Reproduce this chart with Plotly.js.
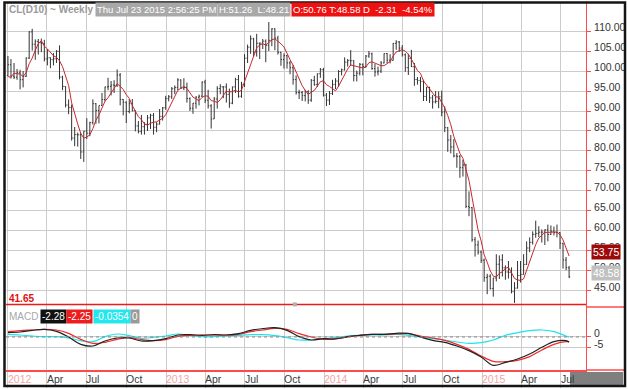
<!DOCTYPE html>
<html><head><meta charset="utf-8">
<script src="https://cdn.plot.ly/plotly-3.0.1.min.js"></script>
<style>html,body{margin:0;padding:0;background:#fff;}#chart{width:628px;height:389px;}</style>
</head><body><div id="chart"></div>
<script>
// ---- data (weekly bars, Monday dates) ----
const firstWeek = '2012-01-02';
const opens = [
98.83,101.56,98.70,98.46,99.56,97.84,98.67,103.24,109.77,106.70,
107.40,107.06,106.87,103.02,103.31,102.83,103.05,104.93,98.49,96.13,
91.48,90.86,83.23,84.10,84.03,79.76,84.96,84.45,87.10,91.83,
90.13,91.40,92.87,96.01,96.15,96.47,96.42,99.00,92.89,92.19,
89.88,91.86,90.05,86.28,84.86,86.07,86.67,88.28,88.91,85.93,
86.73,88.66,90.80,93.09,93.56,95.56,95.88,97.77,95.72,95.86,
93.13,90.68,91.95,93.45,93.71,97.23,92.70,91.29,88.01,93.00,
95.61,96.04,96.02,94.15,91.97,96.03,97.85,93.69,96.56,103.22,
105.95,108.05,104.70,106.94,106.97,107.46,106.42,107.65,110.53,108.21,
104.67,102.87,103.84,102.02,100.81,97.85,94.61,94.60,93.84,94.84,
92.72,97.65,96.60,99.32,100.32,93.96,92.72,94.37,96.64,97.49,
99.88,100.30,102.20,102.59,102.58,98.89,99.46,101.67,101.14,103.74,
104.30,100.60,99.76,99.99,102.02,104.35,102.71,102.66,106.91,107.26,
105.74,104.06,100.83,103.13,101.09,97.88,97.65,97.35,93.65,95.96,
93.29,92.27,92.41,93.54,89.74,85.82,82.75,81.01,78.77,78.65,
75.82,76.51,66.15,65.84,57.81,56.52,54.73,52.69,48.36,48.69,
45.59,48.24,51.69,52.78,50.81,49.76,49.61,44.84,45.72,48.87,
49.14,51.64,55.74,57.15,59.15,59.39,59.69,59.72,60.30,59.13,
59.96,59.61,59.63,56.93,52.74,50.76];
const highs = [
103.74,103.00,102.00,100.50,100.30,100.00,103.40,109.95,110.55,107.90,
108.00,108.10,107.80,105.50,103.40,104.50,105.20,106.40,98.80,96.20,
92.90,91.60,86.00,84.60,84.50,85.00,88.20,87.30,92.90,92.00,
91.30,94.50,96.10,98.30,97.50,97.70,100.40,99.50,93.00,92.40,
93.00,93.00,90.20,87.50,89.00,87.20,89.00,89.30,89.50,87.20,
90.50,91.00,93.80,94.00,96.00,96.40,98.20,97.90,98.20,97.10,
93.40,92.00,93.70,94.10,97.40,97.80,95.30,91.70,93.50,96.20,
96.70,96.20,96.90,95.60,96.10,98.30,99.00,97.30,104.20,106.60,
108.90,108.30,109.30,107.10,108.00,107.90,112.24,110.70,110.70,108.80,
104.80,104.40,104.00,102.50,101.50,98.90,95.30,95.00,95.30,95.20,
98.00,98.80,99.40,100.75,100.80,94.50,95.00,97.80,98.20,100.20,
100.60,103.40,103.00,105.22,102.70,100.10,102.00,101.90,104.00,104.99,
104.60,101.80,101.10,102.50,104.40,104.50,104.20,107.00,107.70,107.50,
106.50,104.40,104.30,105.30,102.00,98.50,98.50,97.80,96.00,96.00,
94.00,95.00,94.90,95.10,91.20,86.00,84.00,83.00,79.50,79.00,
77.80,76.80,69.90,66.00,58.50,57.60,55.10,53.10,49.30,49.20,
48.30,54.20,53.90,54.20,51.40,52.50,50.90,47.20,52.50,52.50,
54.20,57.40,58.40,59.90,62.58,61.20,60.40,60.40,61.60,61.40,
61.10,61.60,59.70,57.00,53.50,51.26];
const lows = [
98.80,98.10,98.00,97.80,95.40,95.90,98.50,103.00,105.10,102.80,
104.10,104.70,102.40,101.40,100.70,101.40,102.00,97.90,95.20,90.90,
89.20,82.60,81.20,81.10,78.00,77.28,83.00,83.70,86.60,86.80,
86.90,91.30,92.40,95.20,93.90,94.50,96.00,91.40,88.90,87.00,
89.40,89.90,84.90,84.40,84.10,84.10,85.00,85.50,84.10,84.70,
86.60,87.60,90.30,92.40,93.00,94.20,95.20,95.50,95.20,92.10,
90.00,89.30,90.60,91.40,93.50,92.00,90.60,85.60,88.00,90.60,
94.20,93.20,92.10,90.80,91.70,94.50,93.30,93.30,96.00,102.00,
104.30,103.60,103.60,103.00,105.50,102.20,105.00,106.20,105.20,104.10,
101.30,100.60,100.60,99.20,96.60,94.10,93.00,92.50,92.40,91.80,
92.30,96.30,96.00,98.30,93.60,91.24,91.50,94.00,95.50,96.00,
98.90,100.10,101.10,101.30,97.40,97.40,98.90,98.90,100.80,103.30,
100.30,98.60,98.90,99.50,101.90,102.00,101.90,102.60,105.30,104.80,
103.60,99.80,99.00,101.00,96.30,96.60,94.70,92.50,92.50,92.00,
90.60,91.90,90.70,88.70,84.70,79.80,79.40,78.40,75.80,73.30,
73.60,65.70,63.70,57.30,53.60,54.10,52.00,47.30,44.20,45.40,
43.58,47.40,48.00,48.60,47.80,48.10,44.40,42.03,45.60,47.10,
49.10,51.50,54.70,56.60,58.30,58.50,57.10,56.50,57.40,59.00,
58.90,58.40,55.50,50.60,50.20,48.21];
const closes = [
101.56,98.70,98.46,99.56,97.84,98.67,103.24,109.77,106.70,107.40,
107.06,106.87,103.02,103.31,102.83,103.05,104.93,98.49,96.13,91.48,
90.86,83.23,84.10,84.03,79.76,84.96,84.45,87.10,91.83,90.13,
91.40,92.87,96.01,96.15,96.47,96.42,99.00,92.89,92.19,89.88,
91.86,90.05,86.28,84.86,86.07,86.67,88.28,88.91,85.93,86.73,
88.66,90.80,93.09,93.56,95.56,95.88,97.77,95.72,95.86,93.13,
90.68,91.95,93.45,93.71,97.23,92.70,91.29,88.01,93.00,95.61,
96.04,96.02,94.15,91.97,96.03,97.85,93.69,96.56,103.22,105.95,
108.05,104.70,106.94,106.97,107.46,106.42,107.65,110.53,108.21,104.67,
102.87,103.84,102.02,100.81,97.85,94.61,94.60,93.84,94.84,92.72,
97.65,96.60,99.32,100.32,93.96,92.72,94.37,96.64,97.49,99.88,
100.30,102.20,102.59,102.58,98.89,99.46,101.67,101.14,103.74,104.30,
100.60,99.76,99.99,102.02,104.35,102.71,102.66,106.91,107.26,105.74,
104.06,100.83,103.13,101.09,97.88,97.65,97.35,93.65,95.96,93.29,
92.27,92.41,93.54,89.74,85.82,82.75,81.01,78.77,78.65,75.82,
76.51,66.15,65.84,57.81,56.52,54.73,52.69,48.36,48.69,45.59,
48.24,51.69,52.78,50.81,49.76,49.61,44.84,45.72,48.87,49.14,
51.64,55.74,57.15,59.15,59.39,59.69,59.72,60.30,59.13,59.96,
59.61,59.63,56.93,52.74,50.89,48.58];
const movingAvg = [
98.60,98.46,99.45,99.42,99.22,98.65,99.55,101.82,103.24,105.16,
106.83,107.56,106.21,105.53,104.62,103.82,103.43,102.52,101.09,98.82,
96.38,92.04,89.16,86.74,84.40,83.22,83.46,84.06,85.62,87.69,
88.98,90.67,92.45,93.31,94.58,95.58,96.81,96.19,95.39,94.08,
93.16,91.37,90.05,88.59,87.82,86.79,86.43,86.96,87.17,87.30,
87.70,88.21,89.04,90.57,92.33,93.78,95.17,95.70,96.16,95.67,
94.63,93.47,93.01,92.58,93.40,93.81,93.68,92.59,92.45,92.12,
92.79,93.74,94.96,94.76,94.84,95.20,94.74,95.22,97.47,99.45,
101.49,103.70,105.77,106.52,106.82,106.50,107.09,107.81,108.05,107.50,
106.79,106.02,104.32,102.84,101.48,99.83,97.98,96.34,95.15,94.12,
94.73,95.13,96.23,97.32,97.57,96.58,96.14,95.60,95.04,96.22,
97.74,99.30,100.49,101.51,101.31,101.14,101.04,100.75,100.98,102.06,
102.29,101.91,101.68,101.33,101.34,101.77,102.35,103.73,104.78,105.06,
105.33,104.96,104.20,102.97,101.40,100.12,99.42,97.52,96.50,95.58,
94.50,93.52,93.49,92.25,90.76,88.85,86.57,83.62,81.40,79.40,
78.15,75.18,72.59,68.43,64.57,60.21,57.52,54.02,52.20,50.01,
48.71,48.51,49.40,49.82,50.66,50.93,49.56,48.15,47.76,47.64,
48.04,50.22,52.51,54.56,56.61,58.22,59.02,59.65,59.65,59.76,
59.74,59.73,59.05,57.77,55.96,53.75];

// MACD panel, read every 4th week (bar index) plus the last bar
const macdIdx = [0,4,8,12,16,20,24,28,32,36,40,44,48,52,56,60,64,68,72,76,80,84,88,92,96,100,104,108,112,116,120,124,128,132,136,140,144,148,152,156,160,164,168,172,176,180,184,185];
const macdLine = [
1.97,2.27,3.03,3.48,2.58,0.00,-3.33,-4.09,-1.82,-0.45,
-0.45,-1.82,-1.67,-0.76,0.91,1.06,0.76,1.06,0.91,1.52,
3.03,3.79,4.24,3.03,0.15,-1.36,-0.76,-0.91,0.15,0.76,
1.21,1.21,1.67,1.67,0.00,-1.52,-2.42,-4.09,-6.21,-9.09,
-12.88,-11.52,-10.00,-7.73,-4.70,-2.12,-1.67,-2.28];
const signalLine = [
2.42,2.88,3.18,3.48,3.18,1.67,-1.06,-2.88,-2.42,-1.06,
-0.30,-1.21,-1.67,-1.21,0.30,0.76,0.91,0.91,0.91,1.21,
2.42,3.18,3.94,3.48,1.52,0.00,-1.06,-0.76,0.00,0.76,
1.21,1.21,1.36,1.52,0.45,-0.45,-1.52,-3.33,-5.61,-8.64,
-11.06,-11.21,-10.60,-8.94,-5.91,-3.33,-2.12,-2.25];
const diffLine = [
1.21,0.91,0.45,0.15,0.15,-0.45,-1.67,-2.12,0.15,1.36,
0.61,-0.61,-0.15,0.45,1.36,0.76,0.15,0.15,0.45,0.76,
1.06,1.06,0.61,-0.30,-1.36,-1.36,-0.61,-0.30,0.45,0.76,
0.91,0.91,1.21,0.76,0.00,-0.76,-1.36,-2.27,-2.88,-2.58,
-1.36,0.76,1.97,2.88,3.18,2.42,0.45,-0.0354];

const quarterDates = ['2012-01-01','2012-04-01','2012-07-01','2012-10-01','2013-01-01','2013-04-01','2013-07-01','2013-10-01','2014-01-01','2014-04-01','2014-07-01','2014-10-01','2015-01-01','2015-04-01','2015-07-01'];
const quarterLabels = ['2012','Apr','Jul','Oct','2013','Apr','Jul','Oct','2014','Apr','Jul','Oct','2015','Apr','Jul'];
const priceTicks = [45,50,55,60,65,70,75,80,85,90,95,100,105,110];
const macdTicks = [0,-5];
const lowMark = 41.65;
const headerTitle = 'CL(D10) ~ Weekly';
const headerStamp = 'Thu Jul 23 2015 2:56:25 PM';
const headerHL = 'H:51.26\u00a0 L:48.21';
const headerOC = 'O:50.76 T:48.58 D\u00a0 -2.31\u00a0 -4.54%';
const macdLabels = ['MACD', String(macdLine[macdLine.length-1]), String(signalLine[signalLine.length-1]), String(diffLine[diffLine.length-1]), '0'];

// ---- build ----
function weekDates(start, n){
  const out=[]; const t0=Date.parse(start+'T00:00:00Z');
  for(let i=0;i<n;i++){ out.push(new Date(t0+i*7*86400000).toISOString().slice(0,10)); }
  return out;
}
const dates = weekDates(firstWeek, closes.length);
const macdDates = macdIdx.map(i=>dates[i]);

const FONT = 'Liberation Sans, Arial, sans-serif';
const RED = '#ff4a4a';
const GRID = '#cccccc';
const SPLIT = 0.1717;

const traces = [
  {type:'ohlc', x:dates, open:opens, high:highs, low:lows, close:closes, xaxis:'x', yaxis:'y',
   increasing:{line:{color:'#333333', width:1}}, decreasing:{line:{color:'#333333', width:1}}, tickwidth:0.35, hoverinfo:'skip'},
  {type:'scatter', mode:'lines', x:dates, y:movingAvg, xaxis:'x', yaxis:'y', line:{color:'#c8282d', width:1}, hoverinfo:'skip'},
  {type:'scatter', mode:'lines', x:macdDates, y:diffLine, xaxis:'x', yaxis:'y2', line:{color:'#1fe3ea', width:1.2, shape:'spline', smoothing:1}, hoverinfo:'skip'},
  {type:'scatter', mode:'lines', x:macdDates, y:signalLine, xaxis:'x', yaxis:'y2', line:{color:'#f02a2a', width:1.2, shape:'spline', smoothing:1}, hoverinfo:'skip'},
  {type:'scatter', mode:'lines', x:macdDates, y:macdLine, xaxis:'x', yaxis:'y2', line:{color:'#222222', width:1.2, shape:'spline', smoothing:1}, hoverinfo:'skip'}
];

const annotations = [];
// bottom axis labels
quarterDates.forEach((d,i)=>{
  const isYear = /^\d{4}$/.test(quarterLabels[i]);
  annotations.push({x:d, xref:'x', y:-0.0245, yref:'paper', text:quarterLabels[i], showarrow:false,
    xanchor:'left', yanchor:'middle', xshift:-2, font:{family:FONT, size:10.5, color:isYear?'#f5a3a3':'#3a3a3a'}});
});
// header
annotations.push({x:0.001, xref:'paper', y:1, yref:'paper', yanchor:'top', xanchor:'left', showarrow:false, yshift:1,
  text:'<b>'+headerTitle+'</b>', font:{family:FONT, size:10, color:'#9a9a9a'}});
annotations.push({x:(95-6)/580, xref:'paper', y:1, yref:'paper', yanchor:'top', xanchor:'left', showarrow:false, yshift:1,
  text:headerStamp, bgcolor:'#a8a8a8', borderpad:1, font:{family:FONT, size:9.5, color:'#ffffff'}});
annotations.push({x:(217-6)/580, xref:'paper', y:1, yref:'paper', yanchor:'top', xanchor:'left', showarrow:false, yshift:1,
  text:headerHL, bgcolor:'#a8a8a8', borderpad:1, font:{family:FONT, size:9.5, color:'#ffffff'}});
annotations.push({x:(291-6)/580, xref:'paper', y:1, yref:'paper', yanchor:'top', xanchor:'left', showarrow:false, yshift:1,
  text:headerOC, bgcolor:'#ee1111', borderpad:1, font:{family:FONT, size:9.5, color:'#ffffff'}});
// low mark label
annotations.push({x:0.001, xref:'paper', y:lowMark, yref:'y', yanchor:'bottom', xanchor:'left', showarrow:false, yshift:-2,
  text:'<b>'+lowMark.toFixed(2)+'</b>', font:{family:FONT, size:10, color:'#e01010'}});
// MACD legend
const macdY = (370-316)/367;
const legendSpec = [
  {x:7, bg:'rgba(0,0,0,0)', fc:'#a8a8a8'},
  {x:40, bg:'#111111', fc:'#ffffff'},
  {x:66, bg:'#ee1c1c', fc:'#ffffff'},
  {x:93, bg:'#22e8ee', fc:'#ffffff'},
  {x:130, bg:'#9a9a9a', fc:'#ffffff'}
];
legendSpec.forEach((s,i)=>{
  annotations.push({x:(s.x-6)/580, xref:'paper', y:macdY, yref:'paper', xanchor:'left', yanchor:'middle', showarrow:false,
    text:macdLabels[i], bgcolor:s.bg, borderpad:1, font:{family:FONT, size:10, color:s.fc}});
});
// last-value badges on the right axis
annotations.push({x:(591-6)/580, xref:'paper', y:movingAvg[movingAvg.length-1], yref:'y', xanchor:'left', yanchor:'middle', yshift:4,
  showarrow:false, text:movingAvg[movingAvg.length-1].toFixed(2), bgcolor:'#9c0a0a', borderpad:1, font:{family:FONT, size:10.5, color:'#ffffff'}});
annotations.push({x:(591-6)/580, xref:'paper', y:closes[closes.length-1], yref:'y', xanchor:'left', yanchor:'middle', yshift:4,
  showarrow:false, text:closes[closes.length-1].toFixed(2), bgcolor:'#c0c0c0', borderpad:1, font:{family:FONT, size:10.5, color:'#ffffff'}});

const shapes = [
  // low mark line
  {type:'line', xref:'paper', x0:0, x1:1, yref:'y', y0:lowMark, y1:lowMark, line:{color:'#ee1a1a', width:1.5}},
  {type:'rect', xref:'paper', xsizemode:'pixel', xanchor:0.498, x0:-2, x1:2, yref:'y', ysizemode:'pixel', yanchor:lowMark, y0:-2, y1:2, fillcolor:'#b0b0b0', line:{width:0}},
  // panel divider in right margin
  {type:'line', xref:'paper', x0:1, x1:1.068, yref:'paper', y0:SPLIT, y1:SPLIT, line:{color:RED, width:1.5}},
  {type:'line', xref:'paper', x0:1, x1:1.068, yref:'paper', y0:0, y1:0, line:{color:RED, width:1.5}},
  // MACD zero line dotted
  {type:'line', xref:'paper', x0:0, x1:1, yref:'y2', y0:0, y1:0, line:{color:'#888888', width:1, dash:'dot'}},
  // bottom-right grey block
  {type:'rect', xref:'paper', x0:(570-6)/580, x1:(623-6)/580, yref:'paper', y0:(370-385)/367, y1:(370-372)/367, fillcolor:'#7f7f7f', line:{width:0}},
  // outer frame
  {type:'rect', xref:'paper', x0:(4.5-6)/580, x1:(625-6)/580, yref:'paper', y0:(370-386)/367, y1:(370-2.5)/367, line:{color:'#151515', width:2.5}, fillcolor:'rgba(0,0,0,0)'}
];

const layout = {
  width:628, height:389, margin:{l:6, r:42, t:3, b:19, pad:0},
  paper_bgcolor:'#ffffff', plot_bgcolor:'#ffffff', showlegend:false, dragmode:false,
  font:{family:FONT, size:10, color:'#333333'},
  xaxis:{type:'date', range:['2011-12-28 12:00','2015-08-28'], anchor:'y2', tickvals:quarterDates, showticklabels:false,
    showgrid:true, gridcolor:GRID, gridwidth:1, ticks:'outside', ticklen:16, tickcolor:GRID, tickwidth:1,
    showline:true, linecolor:RED, linewidth:1.5, zeroline:false, rangeslider:{visible:false}},
  yaxis:{domain:[SPLIT,1], range:[41,117], side:'right', tickvals:priceTicks, ticktext:priceTicks.map(v=>v.toFixed(2)),
    showgrid:true, gridcolor:GRID, gridwidth:1, ticks:'outside', ticklen:4, tickcolor:RED, tickwidth:1,
    showline:true, linecolor:RED, linewidth:1, zeroline:false, ticklabelshift:-4, ticklabelstandoff:1,
    tickfont:{family:FONT, size:10.5, color:'#333333'}},
  yaxis2:{domain:[0,SPLIT], range:[-15,13.64], side:'right', tickvals:macdTicks, ticktext:macdTicks.map(String),
    showgrid:true, gridcolor:GRID, gridwidth:1, ticks:'outside', ticklen:4, tickcolor:RED, tickwidth:1,
    showline:true, linecolor:RED, linewidth:1, zeroline:false, ticklabelshift:-4, ticklabelstandoff:1,
    tickfont:{family:FONT, size:10.5, color:'#333333'}},
  annotations:annotations, shapes:shapes
};

Plotly.newPlot('chart', traces, layout, {staticPlot:true, displayModeBar:false});
</script></body></html>
